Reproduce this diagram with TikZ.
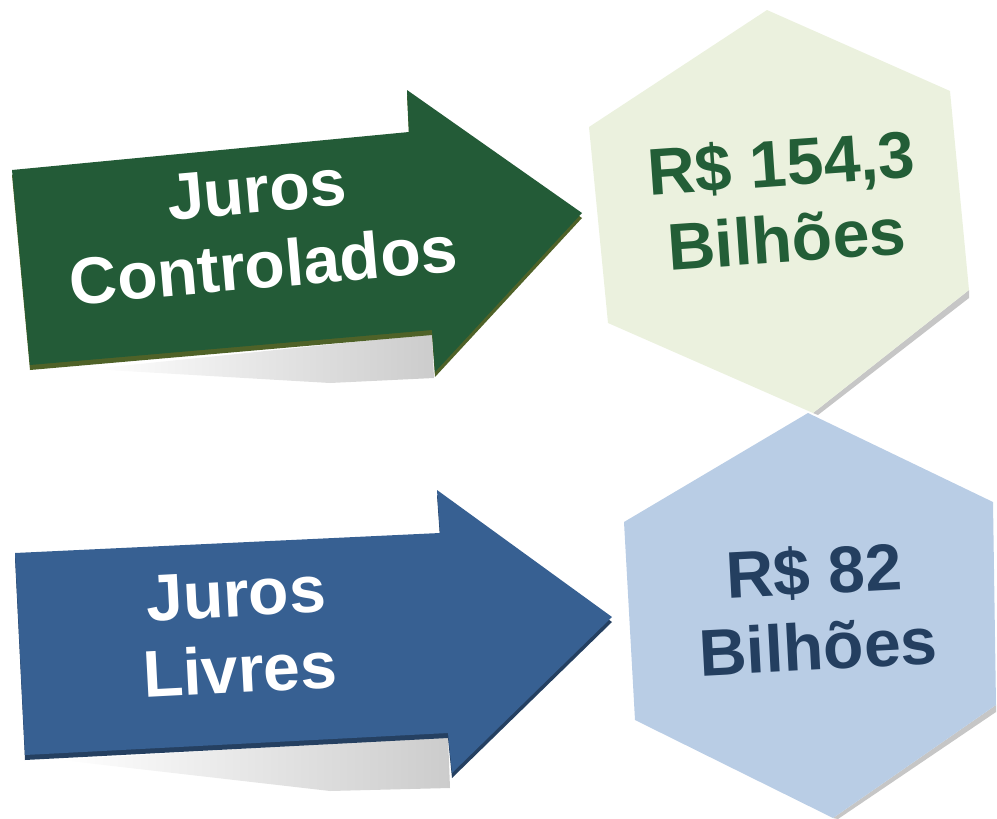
\documentclass[tikz,border=0pt]{standalone}
\usepackage{fontspec}
\setmainfont{Liberation Sans}
\usetikzlibrary{shadings}
\definecolor{darkgreen}{HTML}{235B37}
\definecolor{olive}{HTML}{4F6228}
\definecolor{palegreen}{HTML}{EBF1DE}
\definecolor{textgreen}{HTML}{235E37}
\definecolor{steelblue}{HTML}{376092}
\definecolor{navyedge}{HTML}{254061}
\definecolor{paleblue}{HTML}{B9CDE5}
\definecolor{textblue}{HTML}{243F60}
\tikzset{
    big text/.style={font=\fontsize{66}{76}\selectfont\bfseries,align=center,inner sep=0pt},
    arrow text/.style={big text,text=white},
    edge/.style={yshift=-5pt},
    floor shadow/.style={left color=white,right color=gray!40,draw=none},
}

\begin{document}
\begin{tikzpicture}[x=1pt,y=-1pt]
\useasboundingbox (0,0) rectangle (997,819);
% hexagons
\fill[gray!45] (969,290) -- (969,298) -- (818,415) -- (813,413) -- cycle;
\fill[palegreen] (767,10) -- (950,91) -- (969,290) -- (813,413) -- (608,323) -- (589,127) -- cycle;
\fill[gray!45] (996,705) -- (996,712) -- (838,819) -- (833,818) -- cycle;
\fill[paleblue] (808,413) -- (993,502) -- (996,705) -- (833,818) -- (635,720) -- (624,522) -- cycle;
\node[big text,text=textgreen,rotate=4] (valorcontrolados) at (784,200) {R\$ 154,3\\Bilhões};
\node[big text,text=textblue,rotate=3] (valorlivres) at (816,608) {R\$ 82\\Bilhões};
% green arrow
\shade[floor shadow] (90,369) -- (432,334) -- (434,378) -- (330,383) -- cycle;
\fill[olive,edge] (12,170) -- (409,132) -- (407,90) -- (582,213) -- (435,372) -- (432,330) -- (30,365) -- cycle;
\fill[darkgreen] (12,170) -- (409,132) -- (407,90) -- (582,213) -- (435,372) -- (432,330) -- (30,365) -- cycle;
\node[arrow text,rotate=5] (juroscontrolados) at (260,228) {Juros\\Controlados};
% blue arrow
\shade[floor shadow] (60,760) -- (448,736) -- (450,788) -- (330,791) -- cycle;
\fill[navyedge,edge] (15,553) -- (440,533) -- (437,490) -- (612,617) -- (452,773) -- (448,733) -- (25,755) -- cycle;
\fill[steelblue] (15,553) -- (440,533) -- (437,490) -- (612,617) -- (452,773) -- (448,733) -- (25,755) -- cycle;
\node[arrow text,rotate=3] (juroslivres) at (238,632) {Juros\\Livres};
\end{tikzpicture}
\end{document}
